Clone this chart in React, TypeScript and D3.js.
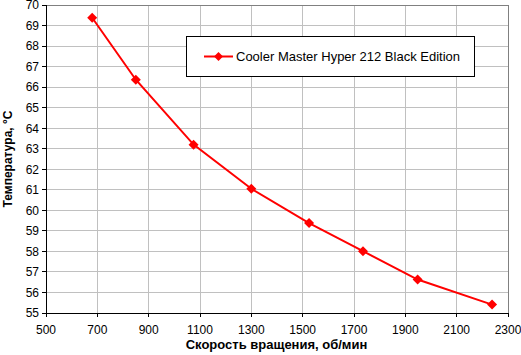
import React from "react";
import * as d3 from "d3";

const speeds = [680, 850, 1075, 1300, 1525, 1735, 1948, 2238];
const temps = [69.38, 66.36, 63.2, 61.05, 59.38, 58.01, 56.63, 55.41];
const xTicks = d3.range(500, 2301, 200);
const yTicks = d3.range(55, 71, 1);
const seriesName = "Cooler Master Hyper 212 Black Edition";
const xTitle = "Скорость вращения, об/мин";
const yTitle = "Температура, °C";

export default function App() {
  const W = 521, H = 355;
  const L = 46, R = 508, T = 5, B = 313;
  const x = d3.scaleLinear().domain([500, 2300]).range([L, R]);
  const y = d3.scaleLinear().domain([55, 70]).range([B, T]);
  const line = d3.line<number>().x((_, i) => x(speeds[i])).y((d) => y(d));
  const font = "Arial, 'Liberation Sans', sans-serif";
  return (
    <svg width={W} height={H} style={{ position: "absolute", left: 0, top: 0 }} fontFamily={font}>
      <rect x={0} y={0} width={W} height={H} fill="#fff" />
      {xTicks.map((t) => (
        <line key={"gx" + t} x1={x(t)} x2={x(t)} y1={T} y2={B} stroke="#c0c0c0" strokeWidth={1} shapeRendering="crispEdges" />
      ))}
      {yTicks.map((t) => (
        <line key={"gy" + t} x1={L} x2={R} y1={y(t)} y2={y(t)} stroke="#c0c0c0" strokeWidth={1} shapeRendering="crispEdges" />
      ))}
      <line x1={L} x2={R} y1={T} y2={T} stroke="#808080" shapeRendering="crispEdges" />
      <line x1={R} x2={R} y1={T} y2={B} stroke="#808080" shapeRendering="crispEdges" />
      <line x1={L} x2={L} y1={T} y2={B + 0.5} stroke="#000" shapeRendering="crispEdges" />
      <line x1={L} x2={R} y1={B} y2={B} stroke="#000" shapeRendering="crispEdges" />
      {yTicks.map((t) => (
        <g key={"ty" + t}>
          <line x1={L - 4} x2={L} y1={y(t)} y2={y(t)} stroke="#000" shapeRendering="crispEdges" />
          <text x={L - 7} y={y(t)} dy="0.36em" textAnchor="end" fontSize={12}>{t}</text>
        </g>
      ))}
      {xTicks.map((t) => (
        <g key={"tx" + t}>
          <line x1={x(t)} x2={x(t)} y1={B} y2={B + 4} stroke="#000" shapeRendering="crispEdges" />
          <text x={x(t)} y={B + 21} textAnchor="middle" fontSize={12}>{t}</text>
        </g>
      ))}
      <path d={line(temps) || ""} fill="none" stroke="#ff0000" strokeWidth={2} />
      {temps.map((d, i) => {
        const cx = x(speeds[i]), cy = y(d), s = 5;
        return <path key={"m" + i} d={`M${cx},${cy - s}L${cx + s},${cy}L${cx},${cy + s}L${cx - s},${cy}Z`} fill="#ff0000" />;
      })}
      <rect x={186.5} y={36.5} width={288} height={40} fill="#fff" stroke="#000" strokeWidth={1} />
      <line x1={204} x2={233} y1={56.5} y2={56.5} stroke="#ff0000" strokeWidth={2} />
      <path d="M218.5,52L223,56.5L218.5,61L214,56.5Z" fill="#ff0000" />
      <text x={236} y={56.5} dy="0.36em" fontSize={13}>{seriesName}</text>
      <text x={276.5} y={349} textAnchor="middle" fontSize={13} fontWeight="bold">{xTitle}</text>
      <text transform={`translate(11.5,${(T + B) / 2}) rotate(-90)`} textAnchor="middle" fontSize={12} fontWeight="bold">{yTitle}</text>
    </svg>
  );
}
